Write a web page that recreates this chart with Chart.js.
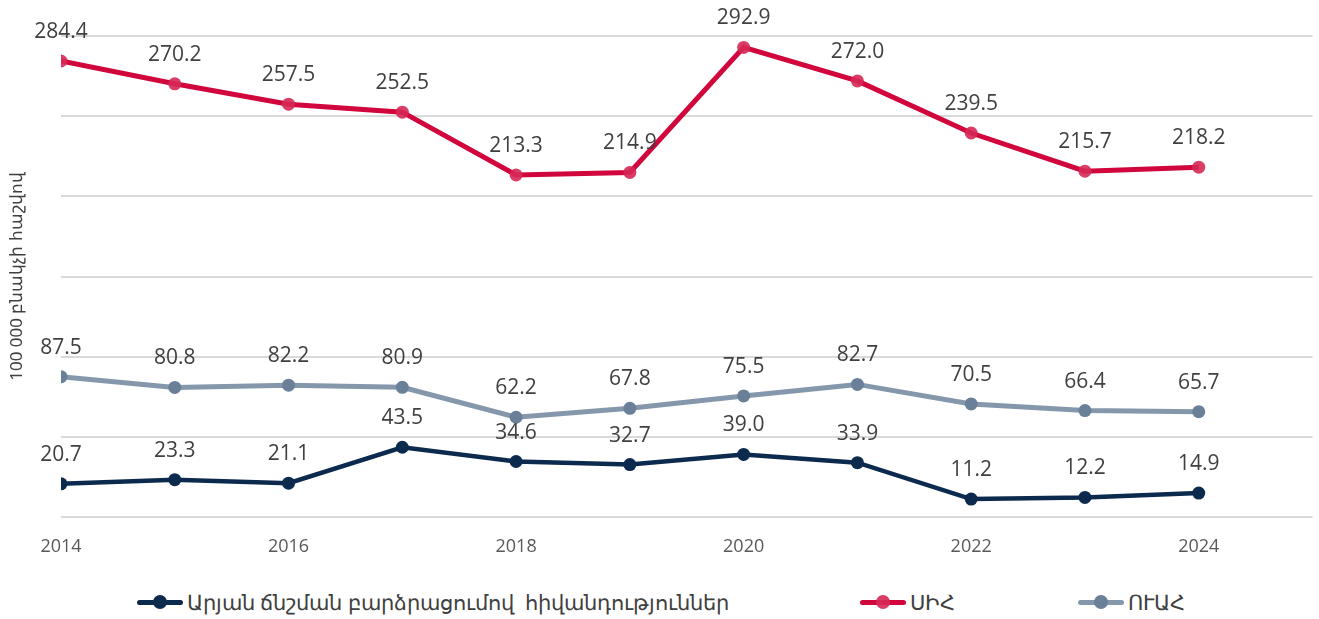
<!DOCTYPE html>
<html lang="hy">
<head>
    <meta charset="UTF-8">
    <title>100 000 բնակչի հաշվով</title>
    <script src="https://cdn.jsdelivr.net/npm/chart.js"></script>
    <style>
        body { margin: 0; background: #fff; font-family: "Noto Sans", sans-serif; }
        #wrap { position: relative; width: 1319px; height: 570px; }
        #legend { position: relative; width: 1319px; height: 49px; }
        .item { position: absolute; top: 18px; display: flex; align-items: center; color: #404040; font-size: 20.7px; white-space: pre; }
        .mark { position: relative; width: 46px; height: 5px; border-radius: 3px; margin-right: 4px; }
        .mark i { position: absolute; left: 16px; top: -4.5px; width: 14px; height: 14px; border-radius: 50%; }
    </style>
</head>
<body>
    <div id="wrap"><canvas id="chart"></canvas></div>
    <div id="legend"></div>

    <script>
        const years = [2014, 2015, 2016, 2017, 2018, 2019, 2020, 2021, 2022, 2023, 2024];
        const hypertension = [20.7, 23.3, 21.1, 43.5, 34.6, 32.7, 39.0, 33.9, 11.2, 12.2, 14.9];
        const ihd = [284.4, 270.2, 257.5, 252.5, 213.3, 214.9, 292.9, 272.0, 239.5, 215.7, 218.2];
        const cvd = [87.5, 80.8, 82.2, 80.9, 62.2, 67.8, 75.5, 82.7, 70.5, 66.4, 65.7];
        const seriesNames = ['Արյան ճնշման բարձրացումով  հիվանդություններ', 'ՍԻՀ', 'ՈՒԱՀ'];
        const yTitle = '100 000 բնակչի հաշվով';

        function pts(vals) {
            return years.map((y, i) => ({ x: y, y: vals[i] }));
        }

        const labelPlugin = {
            id: 'valueLabels',
            afterDatasetsDraw(chart) {
                const ctx = chart.ctx;
                ctx.save();
                ctx.font = '21px "Open Sans"';
                ctx.fillStyle = '#404040';
                ctx.textAlign = 'center';
                ctx.textBaseline = 'middle';
                chart.data.datasets.forEach((ds, i) => {
                    chart.getDatasetMeta(i).data.forEach((p, j) => {
                        ctx.fillText(ds.data[j].y.toFixed(1), p.x, p.y - 29);
                    });
                });
                ctx.restore();
            }
        };

        const styles = [
            { line: '#0c2a4d', point: '#0c2a4d', width: 4.5 },
            { line: '#d0063d', point: 'rgba(214,40,85,0.9)', width: 5 },
            { line: '#8597aa', point: '#6a8099', width: 5 }
        ];
        const legendLeft = [137, 860, 1078];

        const chart = new Chart(document.getElementById('chart'), {
            type: 'line',
            data: {
                datasets: [hypertension, ihd, cvd].map((vals, i) => ({
                    label: seriesNames[i],
                    data: pts(vals),
                    borderColor: styles[i].line,
                    backgroundColor: styles[i].point,
                    pointBackgroundColor: styles[i].point,
                    pointBorderWidth: 0,
                    pointRadius: 6.5,
                    borderWidth: styles[i].width,
                    tension: 0
                }))
            },
            options: {
                responsive: true,
                maintainAspectRatio: false,
                animation: false,
                layout: { padding: { top: 36, right: 5, left: 0, bottom: 0 } },
                plugins: {
                    legend: { display: false },
                    tooltip: { enabled: false }
                },
                scales: {
                    x: {
                        type: 'linear',
                        min: 2014,
                        max: 2025,
                        grid: { display: false },
                        border: { display: false },
                        ticks: {
                            stepSize: 2,
                            includeBounds: false,
                            padding: 11,
                            color: '#595959',
                            font: { family: 'Open Sans', size: 18 },
                            callback: v => String(v)
                        },
                        afterFit: s => { s.height = 53; }
                    },
                    y: {
                        min: 0,
                        max: 300,
                        grid: { color: '#d9d9d9', lineWidth: 2, drawTicks: false },
                        border: { display: false },
                        ticks: { display: false, stepSize: 50 },
                        title: {
                            display: true,
                            text: yTitle,
                            color: '#404040',
                            font: { family: 'Noto Sans', size: 17 },
                            padding: { top: 7, bottom: 0 }
                        },
                        afterFit: s => { s.width = 61; }
                    }
                }
            },
            plugins: [labelPlugin]
        });

        const legend = document.getElementById('legend');
        seriesNames.forEach((name, i) => {
            const item = document.createElement('div');
            item.className = 'item';
            item.style.left = legendLeft[i] + 'px';
            const mark = document.createElement('span');
            mark.className = 'mark';
            mark.style.background = styles[i].line;
            const dot = document.createElement('i');
            dot.style.background = styles[i].point;
            mark.appendChild(dot);
            const txt = document.createElement('span');
            txt.textContent = name;
            item.appendChild(mark);
            item.appendChild(txt);
            legend.appendChild(item);
        });
    </script>
</body>
</html>
